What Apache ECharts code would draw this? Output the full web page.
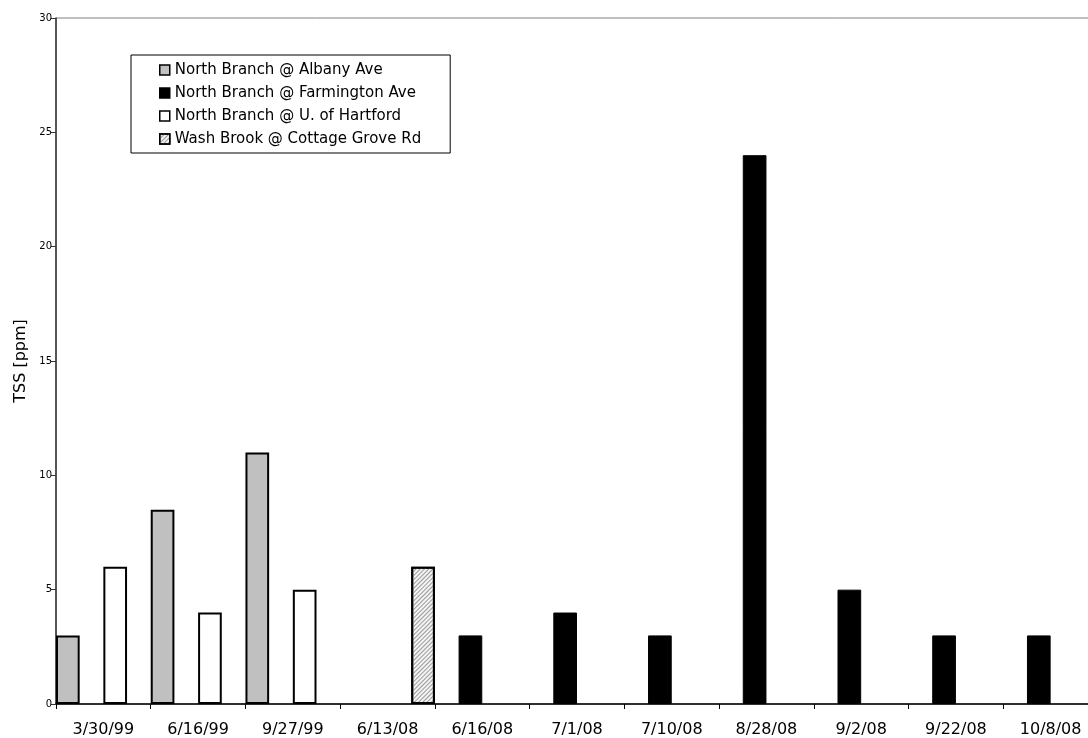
<!DOCTYPE html>
<html>
<head>
<meta charset="utf-8">
<title>TSS</title>
<script src="https://cdn.jsdelivr.net/npm/echarts@6/dist/echarts.min.js"></script>
<style>
  html, body { margin: 0; padding: 0; background: #fff; overflow: hidden; }
  /* the plot runs slightly past the right edge of the window */
  #chart { width: 1110px; height: 738px; }
</style>
</head>
<body>
<div id="chart"></div>
<script>
// Sampling dates (category axis)
const dates = ['3/30/99', '6/16/99', '9/27/99', '6/13/08', '6/16/08', '7/1/08',
               '7/10/08', '8/28/08', '9/2/08', '9/22/08', '10/8/08'];

// TSS readings per station, ppm (null = not sampled)
const albanyAve      = [3, 8.5, 11, null, null, null, null, null, null, null, null];
const farmingtonAve  = [null, null, null, null, 3, 4, 3, 24, 5, 3, 3];
const uOfHartford    = [6, 4, 5, null, null, null, null, null, null, null, null];
const cottageGroveRd = [null, null, null, 6, null, null, null, null, null, null, null];

const stationNames = [
  'North Branch @ Albany Ave',
  'North Branch @ Farmington Ave',
  'North Branch @ U. of Hartford',
  'Wash Brook @ Cottage Grove Rd'
];

const yTicks = { min: 0, max: 30, step: 5 };

const FONT = 'DejaVu Sans';

const hatch = {
  symbol: 'rect',
  color: '#9a9a9a',
  dashArrayX: [1, 0],
  dashArrayY: [1, 2],
  rotation: -Math.PI / 4,
  symbolSize: 1
};

function barSeries(name, data, style) {
  return {
    name: name,
    type: 'bar',
    data: data,
    barGap: '0%',
    barCategoryGap: '0%',
    itemStyle: style,
    emphasis: { disabled: true }
  };
}

const chart = echarts.init(document.getElementById('chart'), null, { renderer: 'canvas' });

chart.setOption({
  animation: false,
  backgroundColor: '#fff',
  grid: {
    left: 56, right: 12, top: 18, bottom: 34,
    show: true, borderColor: '#808080', borderWidth: 1,
    backgroundColor: 'transparent'
  },
  legend: {
    orient: 'vertical',
    left: 131, top: 55,
    backgroundColor: '#fff',
    borderColor: '#000', borderWidth: 1,
    padding: [7, 29, 6, 28],
    itemWidth: 10, itemHeight: 10, itemGap: 7,
    icon: 'rect',
    itemStyle: { borderColor: '#000', borderWidth: 1.5 },
    textStyle: { fontFamily: FONT, fontSize: 15, color: '#000', lineHeight: 16 },
    data: stationNames,
    selectedMode: false
  },
  xAxis: {
    type: 'category',
    data: dates,
    axisLine: { lineStyle: { color: '#000', width: 1.5 } },
    axisTick: { show: true, length: 5, alignWithLabel: false, lineStyle: { color: '#000' } },
    axisLabel: { interval: 0, fontFamily: FONT, fontSize: 16, color: '#000', margin: 18 },
    splitLine: { show: false }
  },
  yAxis: {
    type: 'value',
    min: yTicks.min, max: yTicks.max, interval: yTicks.step,
    name: 'TSS [ppm]',
    nameLocation: 'middle',
    nameGap: 27,
    nameTextStyle: { fontFamily: FONT, fontSize: 16, color: '#000' },
    axisLine: { show: true, lineStyle: { color: '#333', width: 1.5 } },
    axisTick: { show: true, length: 5, lineStyle: { color: '#333' } },
    axisLabel: { fontFamily: FONT, fontSize: 10, color: '#000', margin: 4 },
    splitLine: { show: false }
  },
  series: [
    barSeries(stationNames[0], albanyAve, { color: '#c0c0c0', borderColor: '#000', borderWidth: 2 }),
    barSeries(stationNames[1], farmingtonAve, { color: '#000', borderColor: '#000', borderWidth: 1 }),
    barSeries(stationNames[2], uOfHartford, { color: '#fff', borderColor: '#000', borderWidth: 2 }),
    barSeries(stationNames[3], cottageGroveRd, { color: '#f4f4f4', borderColor: '#000', borderWidth: 2, decal: hatch })
  ]
});
</script>
</body>
</html>
